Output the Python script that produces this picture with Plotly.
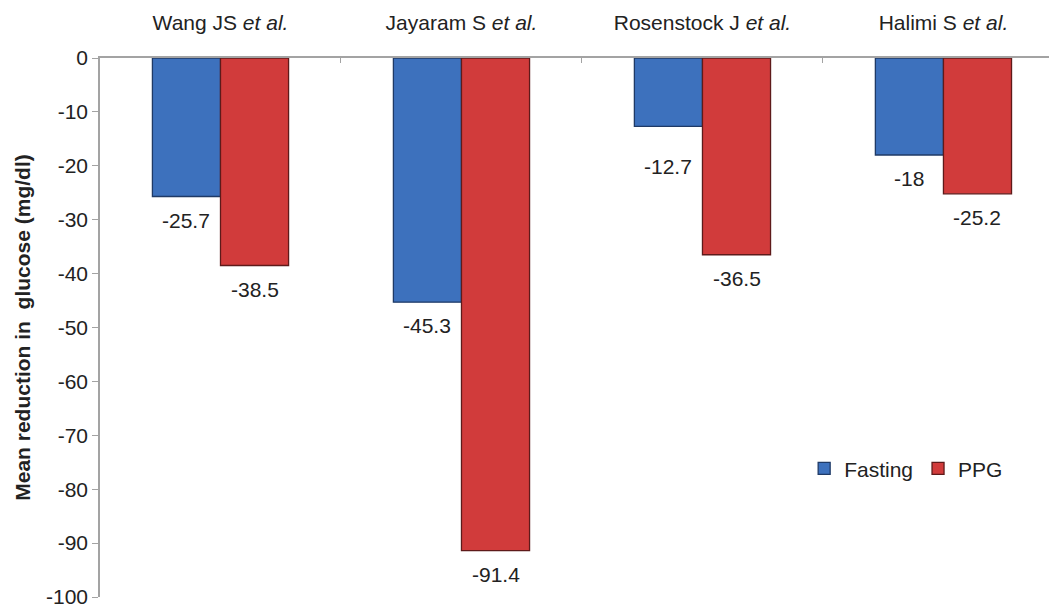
import plotly.graph_objects as go

studies = ["Wang JS <i>et al.</i>", "Jayaram S <i>et al.</i>",
           "Rosenstock J <i>et al.</i>", "Halimi S <i>et al.</i>"]
fasting = [-25.7, -45.3, -12.7, -18]
ppg = [-38.5, -91.4, -36.5, -25.2]
y_ticks = [0, -10, -20, -30, -40, -50, -60, -70, -80, -90, -100]
y_ticktext = [str(v) for v in y_ticks]

FONT_FAMILY = "Liberation Sans, Arial, sans-serif"
TEXT_COLOR = "#222222"
AXIS_COLOR = "#a3a3a3"
font = dict(family=FONT_FAMILY, size=21, color=TEXT_COLOR)

BARGAP = 0.435
half = (1 - BARGAP) / 4  # centre offset of each bar inside its group

fig = go.Figure()
fig.add_trace(go.Bar(
    name="Fasting", x=studies, y=fasting,
    marker=dict(color="#3d71bd", line=dict(color="#1f3a66", width=1.3)),
))
fig.add_trace(go.Bar(
    name="PPG", x=studies, y=ppg,
    marker=dict(color="#d13b3b", line=dict(color="#5e1a1a", width=1.3)),
))

# value labels below the end of each bar
label_drop = {(2, 0): 17}  # the -12.7 label sits a little lower
for j, series in enumerate([fasting, ppg]):
    for i, v in enumerate(series):
        fig.add_annotation(
            x=i + (2 * j - 1) * half, y=v, xref="x", yref="y",
            text=f"{v:g}", showarrow=False, yanchor="top",
            yshift=-10 - label_drop.get((i, j), 0),
            font=font,
        )

fig.update_layout(
    width=1049, height=608,
    paper_bgcolor="white", plot_bgcolor="white",
    margin=dict(l=100, r=0, t=58, b=11),
    barmode="group", bargap=BARGAP, bargroupgap=0,
    font=font,
    showlegend=True,
    legend=dict(orientation="h", x=0.742, y=0.238, xanchor="left", yanchor="middle",
                font=font, itemwidth=30, bgcolor="rgba(0,0,0,0)"),
    xaxis=dict(side="top", range=[-0.5, 3.438], showline=True, linecolor=AXIS_COLOR,
               linewidth=1.5, ticks="inside", tickson="boundaries", ticklen=5,
               tickcolor=AXIS_COLOR, tickfont=font, anchor="y",
               ticklabelstandoff=18),
    yaxis=dict(range=[-100, 0], tickvals=y_ticks, ticktext=y_ticktext,
               showgrid=False, zeroline=False, ticklabeloverflow="allow",
               showline=True, linecolor=AXIS_COLOR, linewidth=1.5,
               ticks="outside", ticklen=6, tickcolor=AXIS_COLOR,
               tickfont=font,
               title=dict(text="<b>Mean reduction in  glucose (mg/dl)</b>",
                          font=font, standoff=10)),
)

fig.write_html("out.html")
